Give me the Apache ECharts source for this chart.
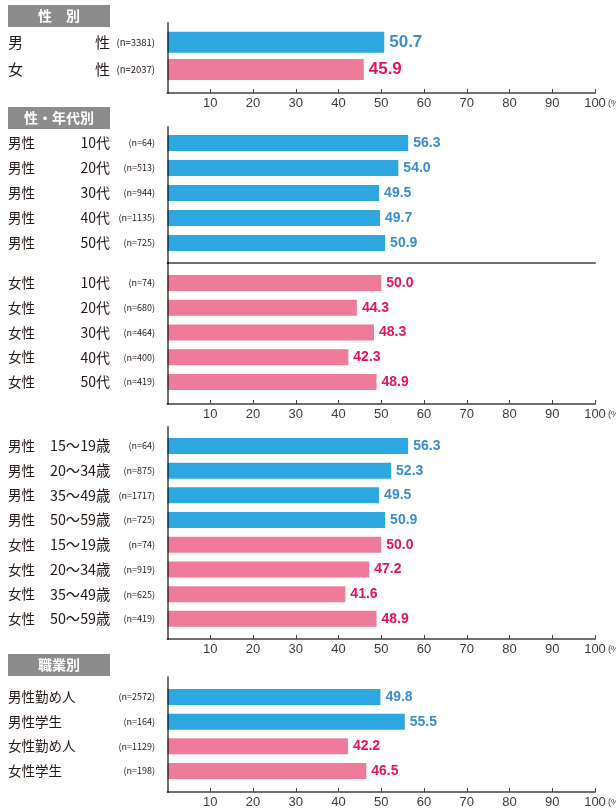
<!DOCTYPE html>
<html>
<head>
<meta charset="utf-8">
<script src="https://cdn.jsdelivr.net/npm/echarts@6/dist/echarts.min.js"></script>
<style>
html, body { margin: 0; padding: 0; background: #fff; }
#chart { width: 616px; height: 812px; }
</style>
</head>
<body>
<div id="chart"></div>
<script>
"use strict";
// 性別
var sexCats = ['男', '女'];
var sexN = [3381, 2037];
var sexVals = [50.7, 45.9];
// 性・年代別
var ageCats = ['10代', '20代', '30代', '40代', '50代'];
var ageMaleN = [64, 513, 944, 1135, 725];
var ageMaleVals = [56.3, 54.0, 49.5, 49.7, 50.9];
var ageFemaleN = [74, 680, 464, 400, 419];
var ageFemaleVals = [50.0, 44.3, 48.3, 42.3, 48.9];
// 性・年齢層別
var lifeCats = ['15〜19歳', '20〜34歳', '35〜49歳', '50〜59歳'];
var lifeMaleN = [64, 875, 1717, 725];
var lifeMaleVals = [56.3, 52.3, 49.5, 50.9];
var lifeFemaleN = [74, 919, 625, 419];
var lifeFemaleVals = [50.0, 47.2, 41.6, 48.9];
// 職業別
var jobCats = ['男性勤め人', '男性学生', '女性勤め人', '女性学生'];
var jobSex = ['男', '男', '女', '女'];
var jobN = [2572, 164, 1129, 198];
var jobVals = [49.8, 55.5, 42.2, 46.5];
// 見出し
var headerTexts = ['性　別', '性・年代別', '職業別'];

var BLUE = '#2ea7e0', PINK = '#ee7b9a';
var BLUE_TXT = '#3a8dd2', PINK_TXT = '#e5145a';
var AXIS = 'rgba(0,0,0,0.56)';
var TXT = '#231815';
var JP = '"Noto Sans CJK JP", sans-serif';
var NUM = '"Liberation Sans", Arial, sans-serif';

var L = 167.5, W = 427.5;
var grids = [], xAxes = [], yAxes = [], series = [];

// 枠（軸線・目盛）用のグリッド
function addFrame(top, height, showTicks) {
	var gi = grids.length;
	grids.push({ left: L, top: top, width: W, height: height, outerBoundsMode: 'none', containLabel: false });
	xAxes.push({
		gridIndex: gi, type: 'value', min: 0, max: 100, interval: 10, z: 5,
		axisLine: { show: true, lineStyle: { color: AXIS, width: 2 } },
		axisTick: { show: showTicks, inside: true, length: 4, lineStyle: { color: '#444', width: 1 } },
		axisLabel: { show: showTicks, showMinLabel: false, margin: 4, fontSize: 13, color: '#3e3a39', fontFamily: NUM },
		splitLine: { show: false },
		name: showTicks ? '(%)' : '', nameLocation: 'end', nameGap: 13, nameMoveOverlap: false,
		nameTextStyle: { fontSize: 9, color: '#3e3a39', fontFamily: NUM, verticalAlign: 'top', padding: [6, 0, 0, 0] }
	});
	yAxes.push({
		gridIndex: gi, type: 'value', min: 0, max: 1, z: 5,
		axisLine: { show: true, lineStyle: { color: AXIS, width: 2 } },
		axisTick: { show: false }, axisLabel: { show: false }, splitLine: { show: false }
	});
}

// 棒グラフ用のグリッド
function addBars(top, height, cats, vals, sexes, fmt, rich, barWidth, labelSize) {
	var gi = grids.length;
	grids.push({ left: L, top: top, width: W, height: height, outerBoundsMode: 'none', containLabel: false });
	xAxes.push({ gridIndex: gi, type: 'value', min: 0, max: 100, show: false });
	yAxes.push({
		gridIndex: gi, type: 'category', inverse: true, data: cats,
		axisLine: { show: false }, axisTick: { show: false }, splitLine: { show: false },
		axisLabel: { align: 'left', margin: L - 8, formatter: fmt, rich: rich }
	});
	var data = vals.map(function (v, i) {
		var male = sexes[i] === '男';
		return {
			value: v,
			itemStyle: { color: male ? BLUE : PINK },
			label: { color: male ? BLUE_TXT : PINK_TXT }
		};
	});
	series.push({
		type: 'bar', xAxisIndex: gi, yAxisIndex: gi, barWidth: barWidth, data: data,
		label: {
			show: true, position: 'right', distance: 5,
			fontSize: labelSize, fontWeight: 'bold', fontFamily: NUM,
			formatter: function (p) { return p.value.toFixed(1); }
		}
	});
}

function rep(n, s) { var a = []; for (var i = 0; i < n; i++) a.push(s); return a; }

// 1. 性別
addFrame(23, 70, true);
addBars(28.7, 54.4, sexCats, sexVals, sexCats,
	function (v, i) { return '{a|' + v + '}{b|性}{n|(n=' + sexN[i] + ')}'; },
	{
		a: { fontSize: 15, fontFamily: JP, color: TXT, width: 87 },
		b: { fontSize: 15, fontFamily: JP, color: TXT, width: 15 },
		n: { fontSize: 9.5, fontFamily: JP, color: TXT, width: 45, align: 'right' }
	}, 21, 17);

// 2. 性・年代別
var ageRich = {
	a: { fontSize: 13.5, fontFamily: JP, color: TXT, width: 62 },
	b: { fontSize: 14, fontFamily: JP, color: TXT, width: 40, align: 'right' },
	n: { fontSize: 9, fontFamily: JP, color: TXT, width: 45, align: 'right' }
};
addFrame(127, 136, false);
addFrame(263, 141, true);
addBars(130.5, 125, ageCats.map(function (c) { return '男性|' + c; }), ageMaleVals, rep(5, '男'),
	function (v, i) { var s = v.split('|'); return '{a|' + s[0] + '}{b|' + s[1] + '}{n|(n=' + ageMaleN[i] + ')}'; },
	ageRich, 16, 14);
addBars(270.6, 123.8, ageCats.map(function (c) { return '女性|' + c; }), ageFemaleVals, rep(5, '女'),
	function (v, i) { var s = v.split('|'); return '{a|' + s[0] + '}{b|' + s[1] + '}{n|(n=' + ageFemaleN[i] + ')}'; },
	ageRich, 16, 14);

// 3. 性・年齢層別
var lifeLabels = lifeCats.map(function (c) { return '男性|' + c; }).concat(lifeCats.map(function (c) { return '女性|' + c; }));
var lifeN = lifeMaleN.concat(lifeFemaleN);
addFrame(427, 212, true);
addBars(433.6, 197.6, lifeLabels, lifeMaleVals.concat(lifeFemaleVals), rep(4, '男').concat(rep(4, '女')),
	function (v, i) { var s = v.split('|'); return '{a|' + s[0] + '}{b|' + s[1] + '}{n|(n=' + lifeN[i] + ')}'; },
	{
		a: { fontSize: 13.5, fontFamily: JP, color: TXT, width: 42 },
		b: { fontSize: 14.3, fontFamily: JP, color: TXT, width: 60 },
		n: { fontSize: 9, fontFamily: JP, color: TXT, width: 45, align: 'right' }
	}, 16, 14);

// 4. 職業別
addFrame(677, 115, true);
addBars(684.6, 98.8, jobCats, jobVals, jobSex,
	function (v, i) { return '{a|' + v + '}{n|(n=' + jobN[i] + ')}'; },
	{
		a: { fontSize: 13.5, fontFamily: JP, color: TXT, width: 102 },
		n: { fontSize: 9, fontFamily: JP, color: TXT, width: 45, align: 'right' }
	}, 16, 14);

// 見出しの灰色ボックス
var headerTops = [5, 107, 654];
var graphic = headerTexts.map(function (t, i) {
	return {
		type: 'group', left: 8, top: headerTops[i],
		children: [
			{ type: 'rect', shape: { x: 0, y: 0, width: 102, height: 22 }, style: { fill: '#8c8c8c' } },
			{ type: 'text', x: 51, y: 11, style: {
				text: t, fill: '#fff', fontSize: 14, fontWeight: 'bold', fontFamily: JP,
				align: 'center', verticalAlign: 'middle' } }
		]
	};
});

var myChart = echarts.init(document.getElementById('chart'), null, { renderer: 'canvas' });
myChart.setOption({
	animation: false,
	backgroundColor: '#fff',
	grid: grids,
	xAxis: xAxes,
	yAxis: yAxes,
	series: series,
	graphic: graphic
});
</script>
</body>
</html>
